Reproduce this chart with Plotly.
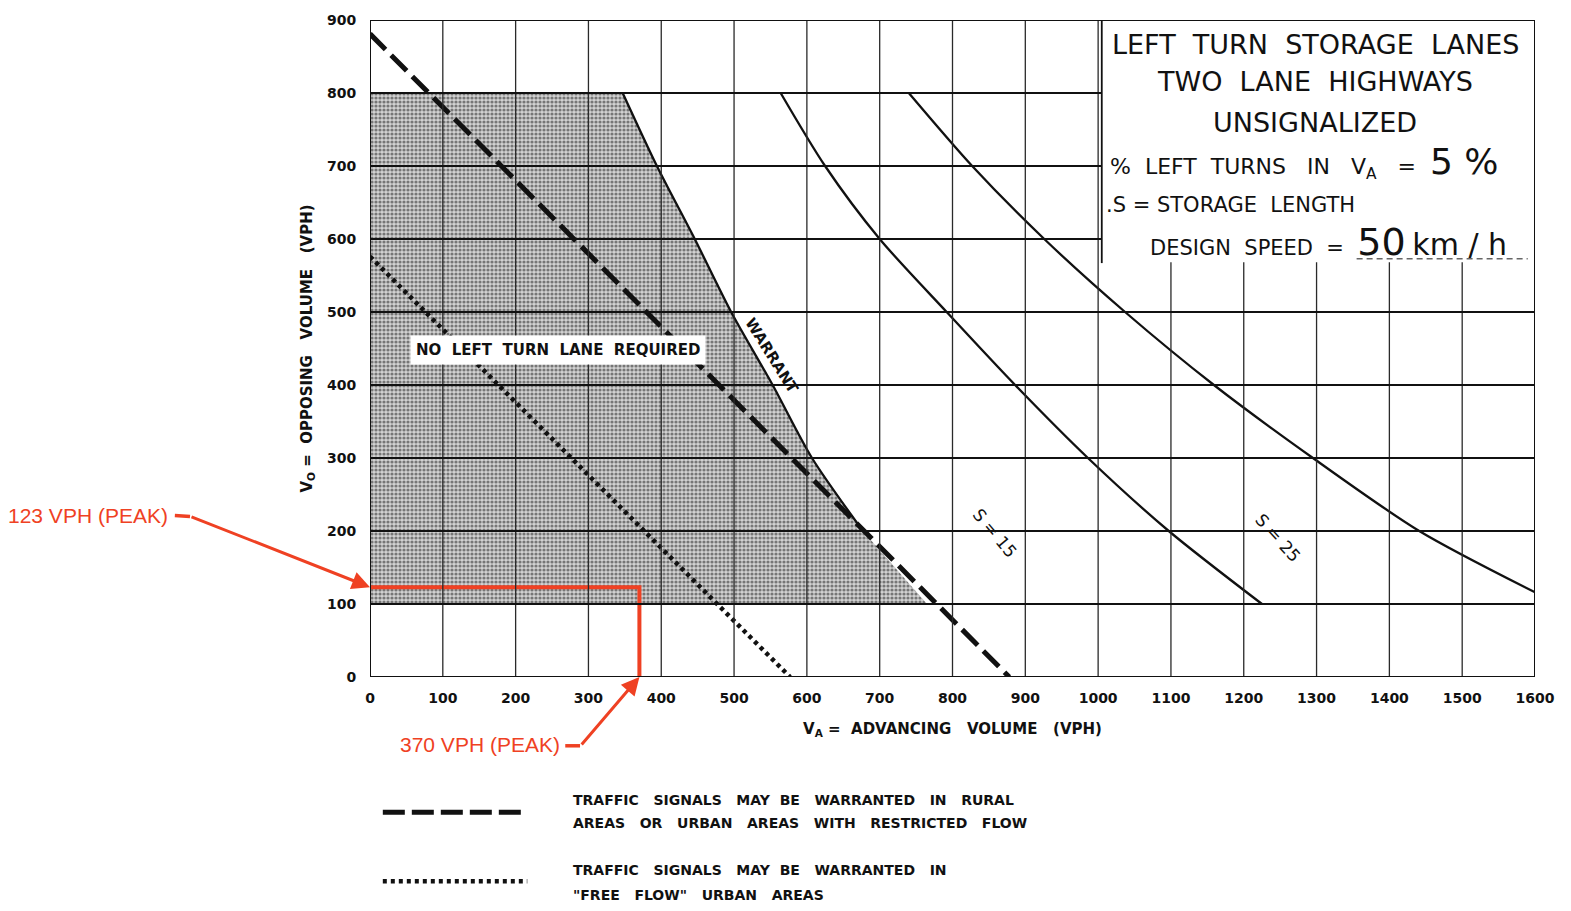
import plotly.graph_objects as go

# Axis ticks (vehicles per hour)
va_ticks = [0, 100, 200, 300, 400, 500, 600, 700, 800, 900, 1000, 1100, 1200, 1300, 1400, 1500, 1600]
vo_ticks = [0, 100, 200, 300, 400, 500, 600, 700, 800, 900]

# Warrant curve (advancing vs opposing volume)
warrant_va = [347, 394, 446, 496, 553, 607, 677]
warrant_vo = [800, 700, 600, 500, 400, 300, 200]

# Lower edge of the "no left turn lane" zone below the warrant curve
zone_edge_va = [765]
zone_edge_vo = [100]
zone_top_vo = 800
zone_bottom_vo = 100

# Storage length curves
s15_va = [564, 625, 700, 792, 886, 986, 1097, 1225]
s15_vo = [800, 700, 600, 500, 400, 300, 200, 100]
s25_va = [740, 827, 926, 1037, 1159, 1295, 1441, 1600]
s25_vo = [800, 700, 600, 500, 400, 300, 200, 116]

# Signal warrant lines
rural_va = [0, 878]
rural_vo = [881, 0]
freeflow_va = [0, 577]
freeflow_vo = [576, 0]

# Peak hour volumes at the intersection
peak_va = 370
peak_vo = 123

INK = "#111111"
RED = "#ef4123"
FONT = "DejaVu Sans"

fig = go.Figure()

# Stippled "no left turn lane required" zone
zone_va = [0, 0] + warrant_va + zone_edge_va + [0]
zone_vo = [zone_bottom_vo, zone_top_vo] + warrant_vo + zone_edge_vo + [zone_bottom_vo]
fig.add_trace(go.Scatter(
    x=zone_va, y=zone_vo, mode="lines", fill="toself",
    line=dict(width=0, color="rgba(0,0,0,0)"),
    fillcolor="#d2d2d2",
    fillpattern=dict(shape=".", fgcolor="#1a1a1a", bgcolor="#d2d2d2", size=4, solidity=0.5),
    hoverinfo="skip", showlegend=False,
))

# Dotted free-flow line and dashed rural line
fig.add_trace(go.Scatter(x=freeflow_va, y=freeflow_vo, mode="lines",
                         line=dict(color=INK, width=4.5, dash="4px,4px"),
                         showlegend=False, hoverinfo="skip"))
fig.add_trace(go.Scatter(x=rural_va, y=rural_vo, mode="lines",
                         line=dict(color=INK, width=5, dash="22px,8px"),
                         showlegend=False, hoverinfo="skip"))

# Warrant and storage curves
for xs, ys in [(warrant_va, warrant_vo), (s15_va, s15_vo), (s25_va, s25_vo)]:
    fig.add_trace(go.Scatter(x=xs, y=ys, mode="lines",
                             line=dict(color=INK, width=2.3, shape="spline", smoothing=0.8),
                             showlegend=False, hoverinfo="skip"))

# Peak volume lines
fig.add_trace(go.Scatter(x=[0, peak_va, peak_va], y=[peak_vo, peak_vo, 0], mode="lines",
                         line=dict(color=RED, width=4), showlegend=False, hoverinfo="skip"))

shapes = []
# Grid lines drawn over the stipple
for v in va_ticks[1:-1]:
    shapes.append(dict(type="line", xref="x", yref="y", x0=v, x1=v, y0=0, y1=900,
                       line=dict(color="#2a2a2a", width=1.3), layer="above"))
for v in vo_ticks[1:-1]:
    shapes.append(dict(type="line", xref="x", yref="y", x0=0, x1=1600, y0=v, y1=v,
                       line=dict(color=INK, width=1.8), layer="above"))
# Title panel
shapes.append(dict(type="rect", xref="x", yref="y", x0=1005, x1=1600, y0=568, y1=900,
                   fillcolor="white", line=dict(width=0), layer="above"))
shapes.append(dict(type="line", xref="x", yref="y", x0=1005, x1=1005, y0=567, y1=900,
                   line=dict(color=INK, width=1.8), layer="above"))
shapes.append(dict(type="line", xref="x", yref="y", x0=1355, x1=1590, y0=573, y1=573,
                   line=dict(color="#666666", width=1.5, dash="6px,4px"), layer="above"))
# Plot frame
shapes.append(dict(type="rect", xref="x", yref="y", x0=0, x1=1600, y0=0, y1=900,
                   line=dict(color=INK, width=2), layer="above"))
# Legend swatches
shapes.append(dict(type="line", xref="paper", yref="paper", x0=0.011, x1=0.133, y0=-0.206, y1=-0.206,
                   line=dict(color=INK, width=5, dash="22px,7px")))
shapes.append(dict(type="line", xref="paper", yref="paper", x0=0.011, x1=0.135, y0=-0.311, y1=-0.311,
                   line=dict(color=INK, width=4.5, dash="4px,4px")))
# Callout stubs
shapes.append(dict(type="line", xref="paper", yref="paper", x0=-0.1675, x1=-0.1545, y0=0.2458, y1=0.2443,
                   line=dict(color=RED, width=3.5)))
shapes.append(dict(type="line", xref="paper", yref="paper", x0=0.1676, x1=0.1803, y0=-0.1047, y1=-0.1047,
                   line=dict(color=RED, width=3.5)))

ann = []
def txt(x, y, s, size=15, xanchor="center", angle=0, xref="x", yref="y", color=INK, family=FONT,
        weight="normal", **kw):
    ann.append(dict(x=x, y=y, xref=xref, yref=yref, text=s, showarrow=False, xanchor=xanchor,
                    yanchor="middle", textangle=angle,
                    font=dict(family=family, size=size, color=color, weight=weight), **kw))

# Title panel text
txt(1298, 867, "LEFT  TURN  STORAGE  LANES", size=27)
txt(1298, 816, "TWO  LANE  HIGHWAYS", size=27)
txt(1298, 760, "UNSIGNALIZED", size=27)
txt(1014, 706, "%  LEFT  TURNS   IN   V<sub>A</sub>   =  <span style='font-size:36px'>5 %</span>", size=22, xanchor="left")
txt(1008, 646, ".S = STORAGE  LENGTH", size=21, xanchor="left")
txt(1069, 596, "DESIGN  SPEED  =  <span style='font-size:38px'>50</span> <span style='font-size:30px'>km / h</span>",
    size=21, xanchor="left")

# Curve labels
txt(552, 440, "WARRANT", size=15, angle=58, weight="bold")
txt(858, 197, "S = 15", size=17, angle=50)
txt(1247, 190, "S = 25", size=17, angle=48)
txt(258, 448, "NO  LEFT  TURN  LANE  REQUIRED", size=15, weight="bold", bgcolor="white", borderpad=5)

# Legend text
leg_x = 0.1725
leg_lines = [
    (-0.1866, "TRAFFIC   SIGNALS   MAY  BE   WARRANTED   IN   RURAL"),
    (-0.2215, "AREAS   OR   URBAN   AREAS   WITH   RESTRICTED   FLOW"),
    (-0.294, "TRAFFIC   SIGNALS   MAY  BE   WARRANTED   IN"),
    (-0.332, "\"FREE   FLOW\"   URBAN   AREAS"),
]
for ly, s in leg_lines:
    txt(leg_x, ly, s, size=14, weight="bold", xanchor="left", xref="paper", yref="paper")

# Peak callouts
txt(-0.1717, 0.2458, f"{peak_vo} VPH (PEAK)", size=21, xanchor="right", xref="paper", yref="paper",
    color=RED, family="Liberation Sans")
txt(0.1648, -0.1032, f"{peak_va} VPH (PEAK)", size=21, xanchor="right", xref="paper", yref="paper",
    color=RED, family="Liberation Sans")
ann.append(dict(x=0, y=peak_vo, xref="x", yref="y", ax=-180, ay=-71, text="", showarrow=True,
                arrowhead=2, arrowsize=1.2, arrowwidth=3, arrowcolor=RED, standoff=0))
ann.append(dict(x=peak_va, y=0, xref="x", yref="y", ax=-59, ay=69, text="", showarrow=True,
                arrowhead=2, arrowsize=1.2, arrowwidth=3, arrowcolor=RED, standoff=0))

fig.update_layout(
    width=1571, height=911,
    margin=dict(l=370, r=36, t=18, b=234),
    paper_bgcolor="white", plot_bgcolor="white",
    shapes=shapes, annotations=ann,
    font=dict(family=FONT, color=INK),
)
fig.update_xaxes(
    range=[0, 1600], tickvals=va_ticks, ticktext=[str(v) for v in va_ticks],
    showgrid=False, zeroline=False, showline=False,
    ticks="outside", ticklen=8, tickcolor="rgba(0,0,0,0)",
    tickfont=dict(family=FONT, size=14, color=INK, weight="bold"),
    title=dict(text="V<sub>A</sub> =  ADVANCING   VOLUME   (VPH)",
               font=dict(family=FONT, size=15, color=INK, weight="bold"), standoff=18),
)
fig.update_yaxes(
    range=[0, 900], tickvals=vo_ticks, ticktext=[str(v) for v in vo_ticks],
    showgrid=False, zeroline=False, showline=False,
    ticks="outside", ticklen=10, tickcolor="rgba(0,0,0,0)",
    tickfont=dict(family=FONT, size=14, color=INK, weight="bold"),
    title=dict(text="V<sub>O</sub> =  OPPOSING   VOLUME   (VPH)",
               font=dict(family=FONT, size=15, color=INK, weight="bold"), standoff=10),
)

fig.write_html("out.html")
